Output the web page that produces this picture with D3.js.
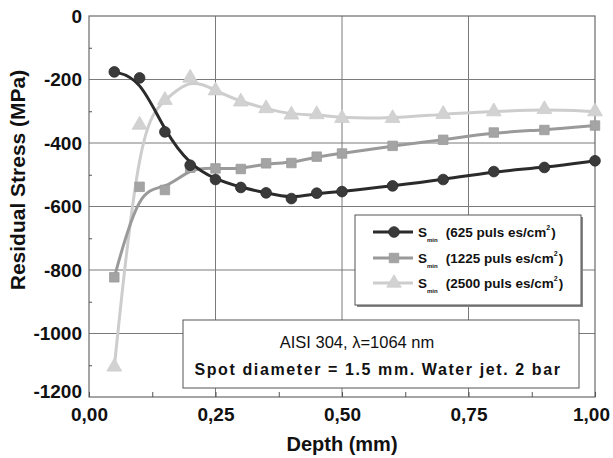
<!DOCTYPE html>
<html>
<head>
<meta charset="utf-8">
<script src="https://cdn.jsdelivr.net/npm/d3@7"></script>
<style>
  body { margin: 0; background: #fff; }
  svg { display: block; }
</style>
</head>
<body>
<script>
const overallWidth = 613
const overallHeight = 458
const margin = { left: 89, top: 16, right: 18, bottom: 61 }
const width = overallWidth - margin.left - margin.right
const height = overallHeight - margin.top - margin.bottom

// depth (mm) and residual stress (MPa)
const depth = [0.05, 0.1, 0.15, 0.2, 0.25, 0.3, 0.35, 0.4, 0.45, 0.5, 0.6, 0.7, 0.8, 0.9, 1.0]
const s625 = [-176, -195, -365, -470, -515, -540, -557, -575, -558, -553, -535, -515, -490, -477, -456]
const s1225 = [-823, -538, -548, -478, -480, -482, -464, -463, -443, -433, -409, -390, -367, -359, -345]
const s2500 = [-1105, -343, -265, -195, -235, -270, -291, -311, -310, -322, -322, -309, -301, -294, -301]

const seriesNames = ['625', '1225', '2500']
const xTicks = [0, 0.25, 0.5, 0.75, 1]
const yTicks = [0, -200, -400, -600, -800, -1000, -1200]

const font = "'Liberation Sans', Arial, sans-serif"
const lineColors = ['#2b2b2b', '#9a9a9a', '#cdcdcd']
const markColors = ['#3a3a3a', '#a4a4a4', '#d2d2d2']
const shapes = [d3.symbolCircle, d3.symbolSquare, d3.symbolTriangle]

const svg = d3.select('body').append('svg')
  .attr('width', overallWidth)
  .attr('height', overallHeight)
  .style('font-family', font)

const g = svg.append('g').attr('transform', `translate(${margin.left},${margin.top})`)

const x = d3.scaleLinear().domain([0, 1]).range([0, width])
const y = d3.scaleLinear().domain([-1200, 0]).range([height, 0])

// grid
g.append('g').attr('class', 'grid')
  .call(gg => gg.selectAll('.v').data(xTicks.slice(1, -1)).enter().append('line')
    .attr('x1', d => x(d)).attr('x2', d => x(d))
    .attr('y1', 0).attr('y2', height))
  .call(gg => gg.selectAll('.h').data(yTicks.slice(1, -1)).enter().append('line')
    .attr('x1', 0).attr('x2', width)
    .attr('y1', d => y(d)).attr('y2', d => y(d)))
  .selectAll('line')
  .attr('stroke', '#7a7a7a')
  .attr('stroke-width', 1)

// frame
g.append('rect')
  .attr('width', width).attr('height', height)
  .attr('fill', 'none').attr('stroke', '#6a6a6a').attr('stroke-width', 1.2)

// inward minor ticks
g.append('g')
  .attr('transform', `translate(0,${height})`)
  .call(d3.axisTop(x).tickValues(d3.range(0, 1.001, 0.125)).tickSize(5).tickFormat(''))
  .call(a => a.select('.domain').remove())
  .selectAll('line').attr('stroke', '#555')

g.append('g')
  .call(d3.axisRight(y).tickValues(d3.range(-1100, 0, 200)).tickSize(3).tickFormat(''))
  .call(a => a.select('.domain').remove())
  .selectAll('line').attr('stroke', '#555')

// tick labels
g.append('g')
  .attr('transform', `translate(0,${height})`)
  .call(d3.axisBottom(x).tickValues(xTicks).tickSize(0).tickPadding(11)
    .tickFormat(d => d3.format('.2f')(d).replace('.', ',')))
  .call(a => a.select('.domain').remove())
  .call(a => a.selectAll('.tick').filter(d => d === 1).select('text').attr('dx', -4))
  .selectAll('text')
  .style('font-family', font)
  .style('font-size', '19px')
  .style('font-weight', 'bold')
  .attr('fill', '#111')

g.append('g')
  .call(d3.axisLeft(y).tickValues(yTicks).tickSize(0).tickPadding(7)
    .tickFormat(d => String(d)))
  .call(a => a.select('.domain').remove())
  .call(a => a.selectAll('.tick').filter(d => d === -1200).select('text').attr('dy', '0.05em'))
  .selectAll('text')
  .style('font-family', font)
  .style('font-size', '19px')
  .style('font-weight', 'bold')
  .attr('fill', '#111')

// axis titles
svg.append('text')
  .text('Depth (mm)')
  .attr('x', margin.left + width / 2)
  .attr('y', 451)
  .style('text-anchor', 'middle')
  .style('font-size', '20px')
  .style('font-weight', 'bold')
  .attr('fill', '#111')

svg.append('text')
  .text('Residual Stress (MPa)')
  .attr('transform', `translate(25,180) rotate(-90)`)
  .style('text-anchor', 'middle')
  .style('font-size', '21px')
  .style('font-weight', 'bold')
  .attr('fill', '#111')

// series
const allSeries = [s625, s1225, s2500]
const line = d3.line()
  .x(d => x(d[0]))
  .y(d => y(d[1]))
  .curve(d3.curveBasis)

const order = [2, 1, 0]
order.forEach(i => {
  const pts = depth.map((d, j) => [d, allSeries[i][j]])
  const sg = g.append('g').attr('class', 'series s' + seriesNames[i])
  sg.append('path')
    .attr('d', line(pts))
    .attr('fill', 'none')
    .attr('stroke', lineColors[i])
    .attr('stroke-width', 3)
  sg.selectAll('path.mark')
    .data(pts).enter()
    .append('path')
    .attr('class', 'mark')
    .attr('transform', d => `translate(${x(d[0])},${y(d[1])})`)
    .attr('d', d3.symbol().type(shapes[i]).size(i === 2 ? 95 : 90))
    .attr('fill', markColors[i])
    .attr('stroke', lineColors[i])
    .attr('stroke-width', 0.8)
})

// legend box
const lg = svg.append('g').attr('class', 'legend')
lg.append('rect')
  .attr('x', 357).attr('y', 217).attr('width', 226).attr('height', 90)
  .attr('fill', '#888')
lg.append('rect')
  .attr('x', 355).attr('y', 215).attr('width', 226).attr('height', 90)
  .attr('fill', '#fff').attr('stroke', '#555').attr('stroke-width', 1)

const rowY = [232, 258, 283]
seriesNames.forEach((name, i) => {
  const row = lg.append('g').attr('transform', `translate(0,${rowY[i]})`)
  row.append('line')
    .attr('x1', 373).attr('x2', 413)
    .attr('stroke', lineColors[i]).attr('stroke-width', 3)
  row.append('path')
    .attr('transform', 'translate(394,0)')
    .attr('d', d3.symbol().type(shapes[i]).size(90))
    .attr('fill', markColors[i])
    .attr('stroke', lineColors[i])
    .attr('stroke-width', 0.8)
  const t = row.append('text')
    .attr('x', 418).attr('y', 5)
    .style('font-size', '13.5px')
    .style('font-weight', 'bold')
    .attr('fill', '#111')
  t.append('tspan').text('S')
  t.append('tspan').text('min')
    .attr('dy', 5).style('font-size', '6px')
  t.append('tspan').text(`(${name} puls es/cm`)
    .attr('dy', -5).attr('dx', 8)
  t.append('tspan').text('2')
    .attr('dy', -7).style('font-size', '7px')
  t.append('tspan').text(')')
    .attr('dy', 7).attr('dx', 1)
})

// annotation box
const ann = svg.append('g').attr('class', 'annotation')
ann.append('rect')
  .attr('x', 183).attr('y', 320).attr('width', 396).attr('height', 68)
  .attr('fill', '#fff').attr('stroke', '#555').attr('stroke-width', 1)
ann.append('text')
  .text('AISI 304, λ=1064 nm')
  .attr('x', 357).attr('y', 348)
  .style('text-anchor', 'middle')
  .style('font-size', '16.5px')
  .attr('fill', '#111')
ann.append('text')
  .text('Spot diameter = 1.5 mm. Water jet. 2 bar')
  .attr('x', 378).attr('y', 375)
  .style('text-anchor', 'middle')
  .style('font-size', '16px')
  .style('font-weight', 'bold')
  .style('letter-spacing', '1.6px')
  .attr('fill', '#111')
</script>
</body>
</html>
